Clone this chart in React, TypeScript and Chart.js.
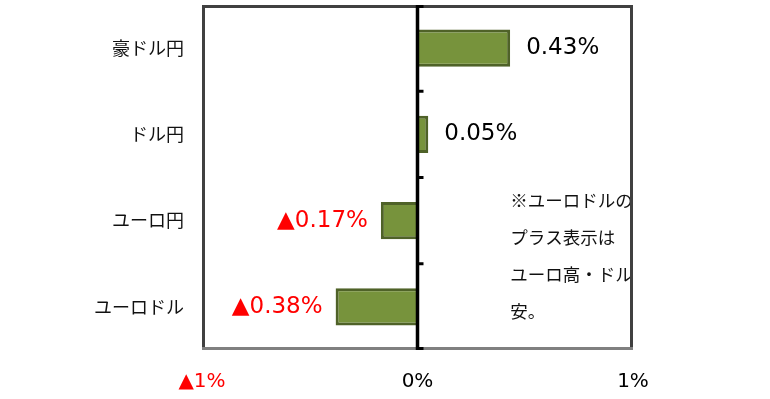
import React, { useEffect, useRef } from "react";
import { Chart, registerables } from "chart.js";

Chart.register(...registerables);

const categories = ["豪ドル円", "ドル円", "ユーロ円", "ユーロドル"];
const changes = [0.43, 0.05, -0.17, -0.38];
const xTicks = [-1, 0, 1];
const noteLines = ["※ユーロドルの", "プラス表示は", "ユーロ高・ドル", "安。"];

const fmtValue = (v: number) =>
  v < 0 ? "▲" + Math.abs(v).toFixed(2) + "%" : v.toFixed(2) + "%";
const fmtTick = (v: number) => (v < 0 ? "▲" + Math.abs(v) + "%" : v + "%");

const LATIN = "'DejaVu Sans', Verdana, sans-serif";
const CJK = "'Noto Sans CJK JP', sans-serif";

const framePlugin = {
  id: "frame",
  afterDatasetsDraw(chart: any) {
    const { ctx, chartArea: a, scales } = chart;
    ctx.save();
    // note (clipped by frame)
    ctx.save();
    ctx.beginPath();
    ctx.rect(a.left, a.top, a.right - a.left - 2, a.bottom - a.top);
    ctx.clip();
    ctx.fillStyle = "#111";
    ctx.textAlign = "left";
    ctx.textBaseline = "middle";
    ctx.font = "17.5px " + CJK;
    const nx = scales.x.getPixelForValue(0.43);
    noteLines.forEach((t, i) => {
      ctx.fillText(t, nx, 200 + i * 37);
    });
    ctx.restore();
    // frame
    ctx.lineCap = "butt";
    ctx.lineWidth = 3;
    ctx.strokeStyle = "#404040";
    ctx.beginPath();
    ctx.moveTo(a.left + 1.5, a.bottom);
    ctx.lineTo(a.left + 1.5, a.top + 1.5);
    ctx.lineTo(a.right - 1.5, a.top + 1.5);
    ctx.lineTo(a.right - 1.5, a.bottom);
    ctx.stroke();
    ctx.strokeStyle = "#808080";
    ctx.beginPath();
    ctx.moveTo(a.left, a.bottom - 1.5);
    ctx.lineTo(a.right, a.bottom - 1.5);
    ctx.stroke();
    // zero axis
    const x0 = scales.x.getPixelForValue(0);
    ctx.strokeStyle = "#000";
    ctx.lineWidth = 3.5;
    ctx.beginPath();
    ctx.moveTo(x0, a.top);
    ctx.lineTo(x0, a.bottom);
    ctx.stroke();
    ctx.lineWidth = 3;
    const n = categories.length;
    for (let i = 0; i <= n; i++) {
      const y = a.top + ((a.bottom - a.top) * i) / n;
      const yy = i === 0 ? y + 1.5 : i === n ? y - 1.5 : y;
      ctx.beginPath();
      ctx.moveTo(x0, yy);
      ctx.lineTo(x0 + 6, yy);
      ctx.stroke();
    }
    // category labels
    ctx.textBaseline = "middle";
    ctx.fillStyle = "#111";
    ctx.textAlign = "right";
    ctx.font = "18px " + CJK;
    categories.forEach((c, i) => {
      ctx.fillText(c, a.left - 18, scales.y.getPixelForValue(i));
    });
    // value labels
    const meta = chart.getDatasetMeta(0);
    ctx.font = "23px " + LATIN;
    meta.data.forEach((bar: any, i: number) => {
      const v = changes[i];
      if (v >= 0) {
        ctx.fillStyle = "#000";
        ctx.textAlign = "left";
        ctx.fillText(fmtValue(v), bar.x + 16, bar.y);
      } else {
        ctx.fillStyle = "#FF0000";
        ctx.textAlign = "right";
        ctx.fillText(fmtValue(v), bar.x - 13, bar.y);
      }
    });
    ctx.restore();
  },
};

export default function App() {
  const ref = useRef<HTMLCanvasElement | null>(null);
  useEffect(() => {
    document.body.style.margin = "0";
    const chart = new Chart(ref.current as HTMLCanvasElement, {
      type: "bar",
      data: {
        labels: categories,
        datasets: [
          {
            data: changes,
            backgroundColor: "#77933C",
            borderColor: "#4F6228",
            borderWidth: 3,
            borderSkipped: "start",
            categoryPercentage: 1,
            barPercentage: 0.43,
          },
        ],
      },
      options: {
        indexAxis: "y",
        animation: false,
        responsive: false,
        maintainAspectRatio: false,
        layout: { padding: { top: 5, right: 137, bottom: 0, left: 0 } },
        plugins: { legend: { display: false }, tooltip: { enabled: false } },
        scales: {
          x: {
            min: -1,
            max: 1,
            afterBuildTicks(scale: any) {
              scale.ticks = xTicks.map((v) => ({ value: v }));
            },
            afterFit(scale: any) {
              scale.height = 49;
            },
            grid: { display: false, drawTicks: false },
            border: { display: false },
            ticks: {
              padding: 20,
              font: { family: LATIN, size: 20 },
              color: (c: any) => (c.tick && c.tick.value < 0 ? "#FF0000" : "#000"),
              callback: (v: any) => fmtTick(Number(v)),
            },
          },
          y: {
            afterFit(scale: any) {
              scale.width = 202;
            },
            grid: { display: false, drawTicks: false },
            border: { display: false },
            ticks: { display: false },
          },
        },
      },
      plugins: [framePlugin],
    } as any);
    return () => chart.destroy();
  }, []);
  return <canvas ref={ref} width={770} height={399} style={{ display: "block" }} />;
}
